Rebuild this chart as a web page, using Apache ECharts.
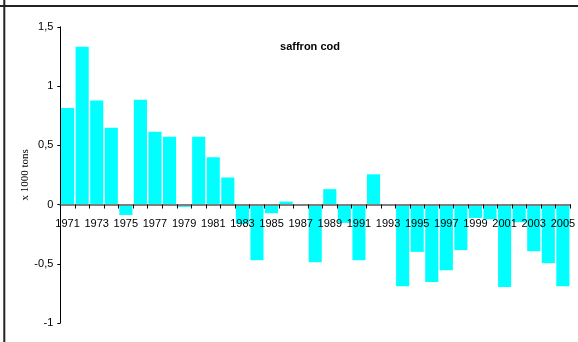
<!DOCTYPE html>
<html>
<head>
<meta charset="utf-8">
<script src="https://cdn.jsdelivr.net/npm/echarts@6/dist/echarts.min.js"></script>
<style>
html, body { margin: 0; padding: 0; background: #fff; }
#chart { width: 578px; height: 342px; }
</style>
</head>
<body>
<div id="chart"></div>
<script>
// Saffron cod catch anomaly, thousand tonnes, 1971–2005
const years = [
  '1971','1972','1973','1974','1975','1976','1977','1978','1979','1980',
  '1981','1982','1983','1984','1985','1986','1987','1988','1989','1990',
  '1991','1992','1993','1994','1995','1996','1997','1998','1999','2000',
  '2001','2002','2003','2004','2005'
];
const values = [
  0.815, 1.332, 0.877, 0.649, -0.088, 0.885, 0.615, 0.573, -0.02, 0.573,
  0.399, 0.228, -0.165, -0.47, -0.073, 0.025, 0, -0.487, 0.13, -0.155,
  -0.47, 0.255, 0, -0.689, -0.40, -0.655, -0.554, -0.385, -0.113, -0.124,
  -0.697, -0.149, -0.394, -0.495, -0.689
];
const chartTitle = 'saffron cod';
const yTitle = 'x 1000 tons';

const chart = echarts.init(document.getElementById('chart'), null, { renderer: 'canvas' });

chart.setOption({
  animation: false,
  backgroundColor: '#ffffff',
  title: {
    text: chartTitle,
    left: 305,
    top: 36,
    textAlign: 'center',
    textStyle: { fontFamily: 'Liberation Sans, Arial, sans-serif', fontSize: 11, fontWeight: 'bold', color: '#000' }
  },
  grid: { left: 60.3, right: 0, top: 26.8, bottom: 19, containLabel: false },
  xAxis: {
    type: 'category',
    data: years,
    boundaryGap: true,
    z: 10,
    axisLine: { onZero: true, lineStyle: { color: '#7f7f7f', width: 2 } },
    axisTick: { show: true, interval: 0, alignWithLabel: false, length: 4, lineStyle: { color: '#000', width: 1 } },
    axisLabel: {
      interval: 1,
      // year labels sit just under the zero line
      margin: -105,
      alignMaxLabel: 'center',
      alignMinLabel: 'center',
      color: '#000',
      fontFamily: 'Liberation Sans, Arial, sans-serif',
      fontSize: 11
    },
    splitLine: { show: false }
  },
  yAxis: {
    type: 'value',
    min: -1,
    max: 1.5,
    interval: 0.5,
    name: yTitle,
    nameLocation: 'middle',
    nameGap: 30,
    nameMoveOverlap: false,
    nameRotate: 90,
    nameTextStyle: { fontFamily: 'Liberation Serif, Times New Roman, serif', fontSize: 11, color: '#000' },
    axisLine: { show: true, lineStyle: { color: '#000', width: 1 } },
    axisTick: { show: true, length: 3, lineStyle: { color: '#000' } },
    axisLabel: {
      margin: 7,
      color: '#000',
      fontFamily: 'Liberation Sans, Arial, sans-serif',
      fontSize: 11,
      formatter: v => String(v).replace('.', ',')
    },
    splitLine: { show: false }
  },
  series: [{
    type: 'bar',
    data: values,
    barCategoryGap: '10%',
    itemStyle: { color: '#00ffff' }
  }],
  graphic: [
    { type: 'line', shape: { x1: 0, y1: 6, x2: 578, y2: 6 }, style: { stroke: '#222', lineWidth: 2 }, z: 100 },
    { type: 'line', shape: { x1: 4.3, y1: 0, x2: 4.3, y2: 342 }, style: { stroke: '#222', lineWidth: 2 }, z: 100 }
  ]
});
</script>
</body>
</html>
